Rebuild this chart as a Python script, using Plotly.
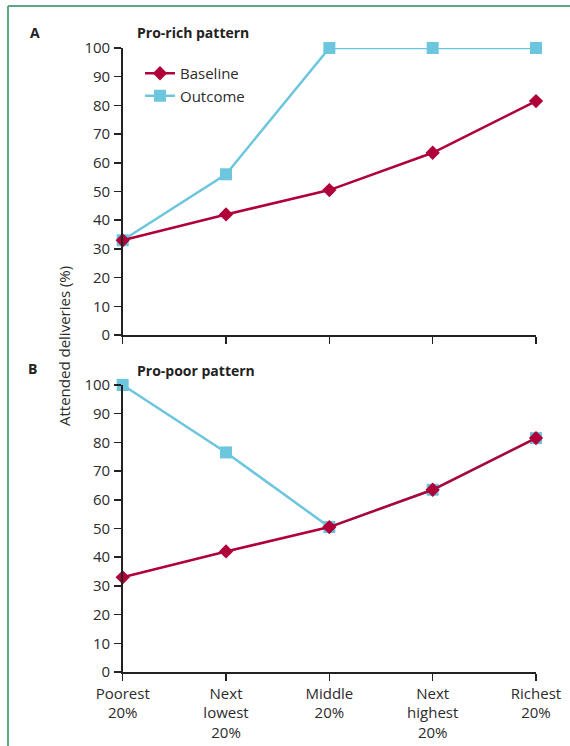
import plotly.graph_objects as go

categories = ["Poorest<br>20%", "Next<br>lowest<br>20%", "Middle<br>20%", "Next<br>highest<br>20%", "Richest<br>20%"]
baseline = [33, 42, 50.5, 63.5, 81.5]
outcome_rich = [33, 56, 100, 100, 100]
outcome_poor = [100, 76.5, 50.5, 63.5, 81.5]
y_ticks = [0, 10, 20, 30, 40, 50, 60, 70, 80, 90, 100]

W, H = 570, 746
RED = "#B0003A"
BLUE = "#6CC6DE"
FONT = "Open Sans"
TXT = "#2b2b2b"

xs = list(range(len(categories)))

def px(x):
    return x / W

def py(y):
    return 1 - y / H

fig = go.Figure()

def add_pair(out, xa, ya, show):
    fig.add_trace(go.Scatter(x=xs, y=out, mode="lines+markers", name="Outcome",
                             line=dict(color=BLUE, width=2.5),
                             marker=dict(symbol="square", size=12, color=BLUE),
                             xaxis=xa, yaxis=ya, showlegend=show, cliponaxis=False,
                             legendrank=2))
    fig.add_trace(go.Scatter(x=xs, y=baseline, mode="lines+markers", name="Baseline",
                             line=dict(color=RED, width=2.5),
                             marker=dict(symbol="diamond", size=11, color=RED),
                             xaxis=xa, yaxis=ya, showlegend=show, cliponaxis=False,
                             legendrank=1))

add_pair(outcome_rich, "x", "y", True)
add_pair(outcome_poor, "x2", "y2", False)

xdom = [px(122.7), px(536)]
common_x = dict(range=[0, 4], showgrid=False, zeroline=False, showline=True,
                linecolor="#222", linewidth=1.5, ticks="outside", ticklen=7,
                tickwidth=1.5, tickcolor="#222", tickvals=xs, domain=xdom,
                tickfont=dict(family=FONT, size=15, color=TXT), fixedrange=True,
                automargin=False)
common_y = dict(range=[0, 100], showgrid=False, zeroline=False, showline=True,
                linecolor="#222", linewidth=1.5, ticks="outside", ticklen=7,
                tickwidth=1.5, tickcolor="#222", tickvals=y_ticks,
                tickfont=dict(family=FONT, size=15, color=TXT), ticklabelstandoff=1,
                automargin=False)

fig.update_layout(
    width=W, height=H,
    margin=dict(l=0, r=0, t=0, b=0, autoexpand=False),
    paper_bgcolor="white", plot_bgcolor="white",
    xaxis=dict(common_x, anchor="y", showticklabels=False),
    yaxis=dict(common_y, anchor="x", domain=[py(335), py(48)]),
    xaxis2=dict(common_x, anchor="y2", ticktext=categories),
    yaxis2=dict(common_y, anchor="x2", domain=[py(672), py(385)]),
    legend=dict(x=px(140), y=py(57), xanchor="left", yanchor="top",
                font=dict(family=FONT, size=15, color=TXT),
                bgcolor="rgba(0,0,0,0)", itemwidth=30, tracegroupgap=10),
    showlegend=True,
)

annots = [
    dict(text="<b>A</b>", x=px(28), y=py(32), xanchor="left", yanchor="middle"),
    dict(text="<b>B</b>", x=px(26), y=py(368), xanchor="left", yanchor="middle"),
    dict(text="<b>Pro-rich pattern</b>", x=px(135), y=py(32), xanchor="left", yanchor="middle"),
    dict(text="<b>Pro-poor pattern</b>", x=px(135), y=py(370), xanchor="left", yanchor="middle"),
]
for a in annots:
    fig.add_annotation(xref="paper", yref="paper", showarrow=False,
                       font=dict(family=FONT, size=14, color="#222"), **a)

fig.add_annotation(xref="paper", yref="paper", showarrow=False,
                   text="Attended deliveries (%)", textangle=-90,
                   x=px(64), y=py(346), xanchor="center", yanchor="middle",
                   font=dict(family=FONT, size=15, color=TXT))

frame = "#5BA882"
fig.add_shape(type="line", xref="paper", yref="paper", x0=px(8), x1=1, y0=py(6), y1=py(6),
              line=dict(color=frame, width=2))
fig.add_shape(type="line", xref="paper", yref="paper", x0=px(8), x1=px(8), y0=py(6), y1=0,
              line=dict(color=frame, width=2))

fig.write_html("out.html", config={"displayModeBar": False, "staticPlot": True},
               post_script="document.body.style.margin='0';document.body.style.overflow='hidden';")
